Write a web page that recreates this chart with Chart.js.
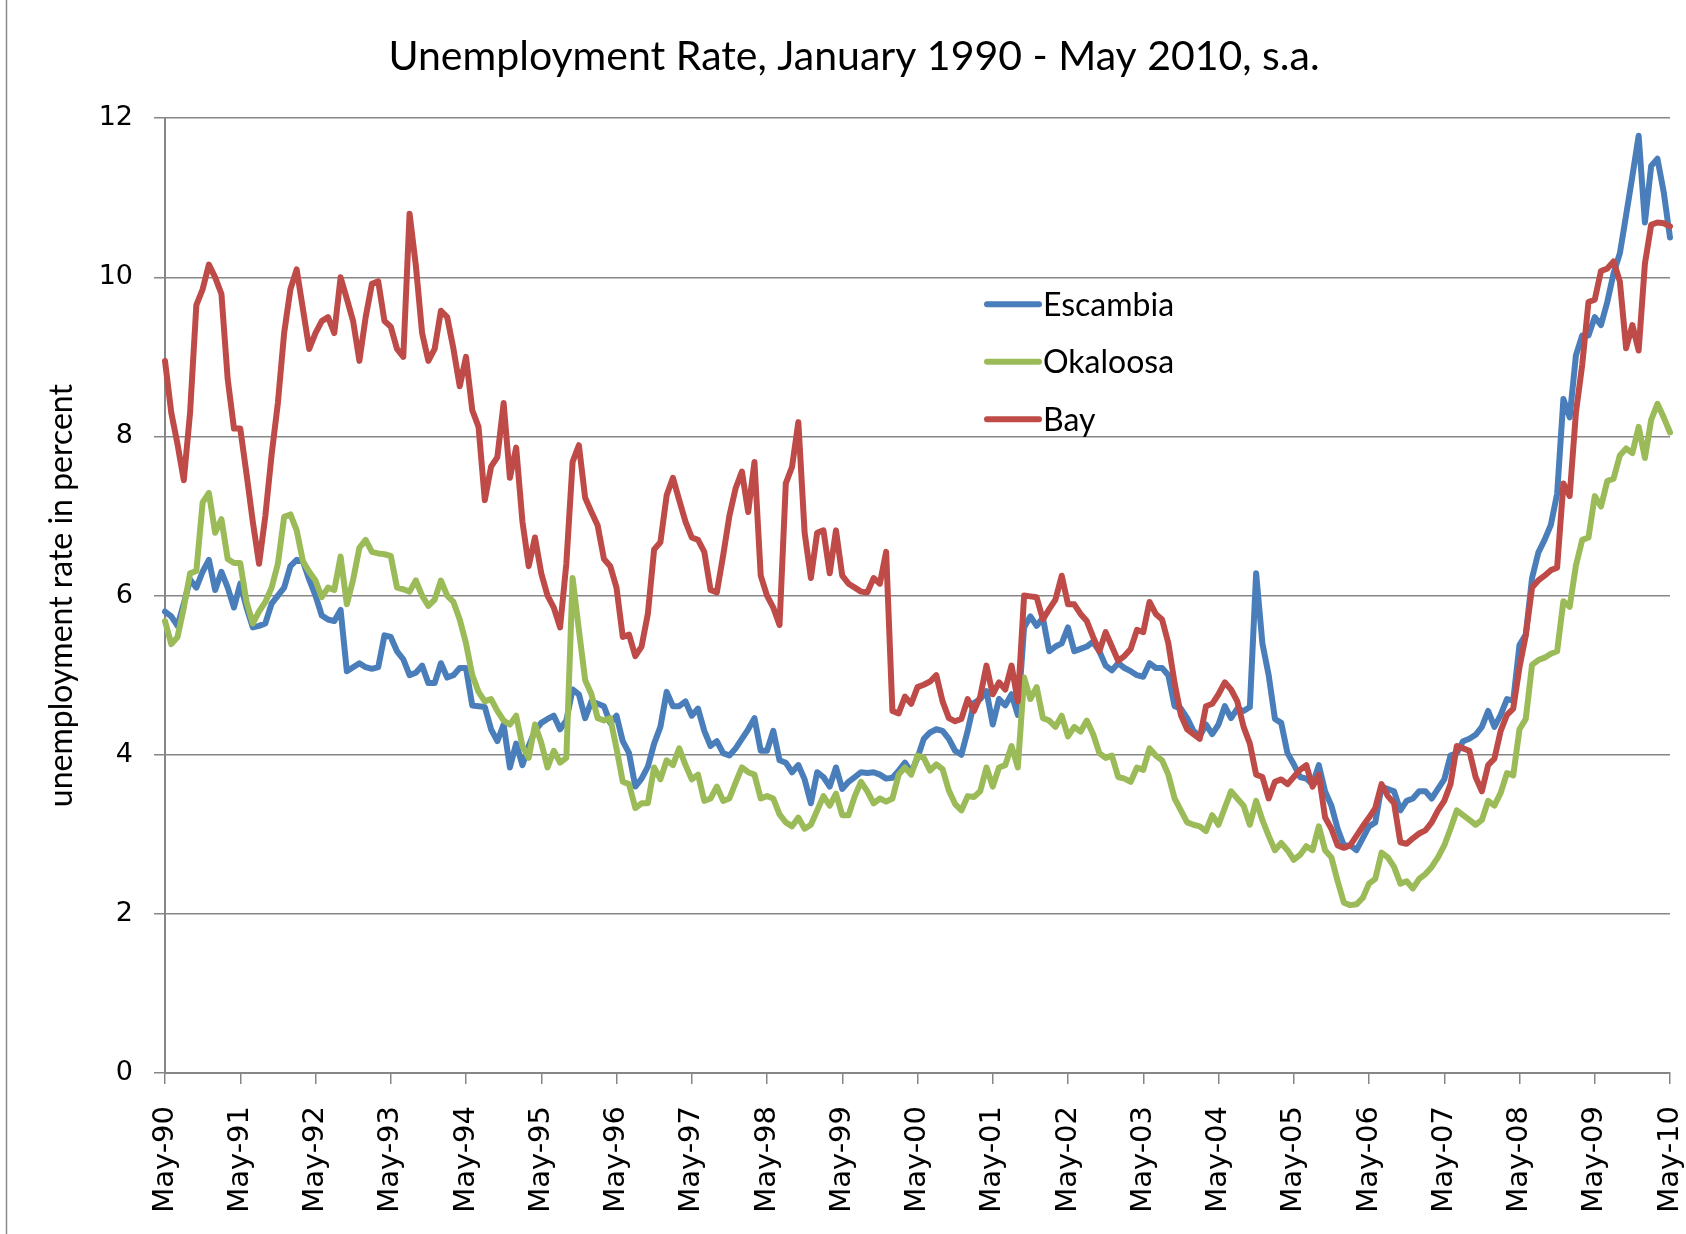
<!DOCTYPE html>
<html>
<head>
<meta charset="utf-8">
<script src="https://cdn.jsdelivr.net/npm/chart.js@4.4.1/dist/chart.umd.min.js"></script>
<style>
html, body { margin: 0; padding: 0; background: #fff; }
#wrap { position: relative; width: 1686px; height: 1234px; }
</style>
</head>
<body>
<div id="wrap"><canvas id="chart" width="1686" height="1234"></canvas></div>
<script>
var fontFamily = 'Lato, "Open Sans", sans-serif';
var tickFamily = '"DejaVu Sans", Verdana, sans-serif';

// monthly, May-90 .. May-10
var monthNames = ['Jan', 'Feb', 'Mar', 'Apr', 'May', 'Jun', 'Jul', 'Aug', 'Sep', 'Oct', 'Nov', 'Dec'];
var months = [];
for (var k = 0; k <= 240; k++) {
    var yy = (90 + Math.floor((4 + k) / 12)) % 100;
    months.push(monthNames[(4 + k) % 12] + '-' + (yy < 10 ? '0' : '') + yy);
}

var escambia = [
    5.80, 5.74, 5.62, 5.90, 6.20, 6.10, 6.30, 6.45, 6.07, 6.30, 6.10, 5.85,
    6.15, 5.85, 5.60, 5.62, 5.65, 5.90, 6.00, 6.10, 6.37, 6.45, 6.43, 6.20,
    6.00, 5.75, 5.70, 5.68, 5.82, 5.05, 5.10, 5.15, 5.10, 5.08, 5.10, 5.50,
    5.48, 5.30, 5.20, 5.00, 5.03, 5.12, 4.90, 4.90, 5.15, 4.97, 5.00, 5.09,
    5.09, 4.62, 4.61, 4.60, 4.32, 4.17, 4.38, 3.84, 4.14, 3.87, 4.11, 4.30,
    4.40, 4.45, 4.49, 4.32, 4.43, 4.82, 4.76, 4.46, 4.67, 4.64, 4.61, 4.40,
    4.49, 4.17, 4.02, 3.60, 3.70, 3.85, 4.14, 4.35, 4.79, 4.61, 4.61, 4.67,
    4.49, 4.58, 4.30, 4.11, 4.17, 4.02, 3.99, 4.08, 4.20, 4.32, 4.46, 4.05,
    4.05, 4.30, 3.93, 3.90, 3.78, 3.87, 3.69, 3.39, 3.78, 3.72, 3.60, 3.84,
    3.57, 3.66, 3.72, 3.78, 3.77, 3.78, 3.75, 3.70, 3.71, 3.80, 3.90, 3.78,
    3.96, 4.20, 4.28, 4.32, 4.30, 4.20, 4.05, 4.00, 4.30, 4.65, 4.70, 4.80,
    4.38, 4.70, 4.62, 4.76, 4.50, 5.60, 5.74, 5.62, 5.72, 5.30, 5.36, 5.40,
    5.60, 5.30, 5.33, 5.36, 5.42, 5.30, 5.12, 5.06, 5.15, 5.09, 5.05, 5.00,
    4.98, 5.15, 5.09, 5.09, 5.00, 4.61, 4.58, 4.46, 4.30, 4.23, 4.38, 4.26,
    4.38, 4.61, 4.46, 4.58, 4.55, 4.60, 6.28, 5.40, 5.00, 4.45, 4.40, 4.02,
    3.88, 3.72, 3.70, 3.63, 3.87, 3.54, 3.36, 3.07, 2.86, 2.86, 2.80, 2.95,
    3.10, 3.15, 3.60, 3.57, 3.54, 3.30, 3.42, 3.45, 3.54, 3.54, 3.45, 3.57,
    3.69, 3.99, 4.02, 4.17, 4.20, 4.25, 4.35, 4.55, 4.35, 4.50, 4.70, 4.68,
    5.38, 5.51, 6.22, 6.54, 6.70, 6.89, 7.28, 8.47, 8.24, 9.02, 9.27, 9.27,
    9.50, 9.40, 9.69, 10.05, 10.30, 10.78, 11.27, 11.78, 10.69, 11.40, 11.49, 11.07,
    10.50
];

var okaloosa = [
    5.68, 5.39, 5.48, 5.85, 6.28, 6.31, 7.17, 7.29, 6.79, 6.96, 6.46, 6.41,
    6.41, 5.92, 5.65, 5.80, 5.92, 6.10, 6.40, 6.99, 7.02, 6.82, 6.43, 6.30,
    6.19, 5.98, 6.10, 6.07, 6.49, 5.89, 6.20, 6.60, 6.70, 6.55, 6.53, 6.52,
    6.50, 6.10, 6.08, 6.05, 6.19, 6.00, 5.87, 5.95, 6.19, 6.00, 5.92, 5.70,
    5.40, 5.00, 4.79, 4.67, 4.70, 4.55, 4.43, 4.38, 4.49, 4.11, 3.96, 4.38,
    4.15, 3.84, 4.05, 3.90, 3.96, 6.22, 5.57, 4.94, 4.76, 4.46, 4.43, 4.46,
    4.08, 3.66, 3.63, 3.33, 3.39, 3.39, 3.84, 3.69, 3.93, 3.87, 4.08, 3.87,
    3.69, 3.75, 3.42, 3.45, 3.60, 3.42, 3.45, 3.65, 3.84, 3.78, 3.75, 3.45,
    3.48, 3.45, 3.25, 3.15, 3.10, 3.21, 3.07, 3.12, 3.30, 3.48, 3.36, 3.51,
    3.24, 3.24, 3.48, 3.66, 3.54, 3.39, 3.45, 3.41, 3.45, 3.75, 3.84, 3.75,
    3.99, 3.96, 3.80, 3.88, 3.82, 3.55, 3.38, 3.30, 3.48, 3.47, 3.54, 3.84,
    3.60, 3.84, 3.87, 4.11, 3.84, 4.97, 4.70, 4.85, 4.46, 4.43, 4.35, 4.49,
    4.23, 4.35, 4.29, 4.43, 4.26, 4.02, 3.96, 3.99, 3.72, 3.70, 3.66, 3.84,
    3.81, 4.08, 3.99, 3.93, 3.75, 3.45, 3.30, 3.15, 3.12, 3.10, 3.04, 3.24,
    3.12, 3.33, 3.54, 3.45, 3.36, 3.12, 3.42, 3.18, 2.98, 2.80, 2.89, 2.80,
    2.68, 2.74, 2.85, 2.80, 3.10, 2.80, 2.71, 2.41, 2.14, 2.11, 2.12, 2.20,
    2.38, 2.44, 2.77, 2.71, 2.59, 2.38, 2.41, 2.32, 2.44, 2.50, 2.59, 2.71,
    2.86, 3.07, 3.30, 3.24, 3.18, 3.12, 3.18, 3.42, 3.36, 3.52, 3.77, 3.74,
    4.32, 4.45, 5.13, 5.19, 5.22, 5.27, 5.30, 5.93, 5.86, 6.38, 6.70, 6.73,
    7.25, 7.12, 7.44, 7.47, 7.76, 7.85, 7.79, 8.12, 7.73, 8.21, 8.41, 8.24,
    8.05
];

var bay = [
    8.95, 8.30, 7.90, 7.45, 8.30, 9.65, 9.85, 10.16, 10.00, 9.79, 8.72, 8.10,
    8.10, 7.53, 6.93, 6.40, 7.00, 7.77, 8.42, 9.30, 9.85, 10.10, 9.60, 9.10,
    9.30, 9.45, 9.50, 9.30, 10.00, 9.73, 9.45, 8.95, 9.50, 9.92, 9.95, 9.45,
    9.38, 9.10, 9.00, 10.80, 10.15, 9.30, 8.95, 9.10, 9.58, 9.50, 9.10, 8.63,
    9.00, 8.33, 8.12, 7.20, 7.62, 7.74, 8.42, 7.48, 7.86, 6.93, 6.37, 6.73,
    6.28, 6.00, 5.85, 5.60, 6.40, 7.68, 7.89, 7.23, 7.05, 6.88, 6.46, 6.37,
    6.10, 5.48, 5.51, 5.24, 5.36, 5.77, 6.58, 6.67, 7.26, 7.48, 7.20, 6.93,
    6.73, 6.70, 6.55, 6.07, 6.04, 6.50, 7.00, 7.35, 7.56, 7.05, 7.68, 6.25,
    6.00, 5.85, 5.63, 7.41, 7.62, 8.18, 6.79, 6.22, 6.79, 6.82, 6.28, 6.82,
    6.25, 6.15, 6.10, 6.05, 6.04, 6.22, 6.15, 6.55, 4.55, 4.52, 4.73, 4.64,
    4.85, 4.88, 4.92, 5.00, 4.67, 4.46, 4.42, 4.45, 4.70, 4.55, 4.73, 5.12,
    4.76, 4.91, 4.82, 5.12, 4.67, 6.00, 5.99, 5.98, 5.70, 5.83, 5.95, 6.25,
    5.89, 5.89, 5.77, 5.68, 5.48, 5.30, 5.54, 5.36, 5.18, 5.24, 5.33, 5.57,
    5.54, 5.92, 5.77, 5.70, 5.40, 4.90, 4.50, 4.32, 4.26, 4.20, 4.61, 4.64,
    4.76, 4.91, 4.82, 4.67, 4.35, 4.14, 3.75, 3.72, 3.45, 3.66, 3.69, 3.63,
    3.72, 3.81, 3.87, 3.60, 3.75, 3.21, 3.07, 2.86, 2.83, 2.86, 2.98, 3.10,
    3.21, 3.33, 3.63, 3.48, 3.39, 2.90, 2.88, 2.95, 3.01, 3.05, 3.15, 3.30,
    3.42, 3.63, 4.11, 4.08, 4.05, 3.72, 3.54, 3.87, 3.95, 4.30, 4.50, 4.58,
    5.10, 5.50, 6.10, 6.19, 6.25, 6.32, 6.35, 7.41, 7.25, 8.30, 8.90, 9.69,
    9.72, 10.08, 10.11, 10.20, 9.95, 9.11, 9.40, 9.08, 10.17, 10.66, 10.69, 10.68,
    10.64
];

var seriesNames = ['Escambia', 'Okaloosa', 'Bay'];
var seriesColors = ['#4a7ebb', '#9bbb59', '#be4b48'];
var yTicks = [0, 2, 4, 6, 8, 10, 12];

// legend sits inside the plot, Excel style
var insideLegend = {
    id: 'insideLegend',
    afterDraw: function(chart) {
        var ctx = chart.ctx;
        var a = chart.chartArea;
        var x0 = a.left + 822;
        var y0 = a.top + 186;
        ctx.save();
        ctx.font = '32px ' + fontFamily;
        ctx.textBaseline = 'middle';
        for (var i = 0; i < seriesNames.length; i++) {
            var y = y0 + i * 57.5;
            ctx.strokeStyle = seriesColors[i];
            ctx.lineWidth = 6;
            ctx.lineCap = 'round';
            ctx.beginPath();
            ctx.moveTo(x0, y);
            ctx.lineTo(x0 + 52, y);
            ctx.stroke();
            ctx.fillStyle = '#000';
            ctx.fillText(seriesNames[i], x0 + 56, y + 1);
        }
        ctx.restore();
    }
};

var frame = {
    id: 'frame',
    beforeDraw: function(chart) {
        var ctx = chart.ctx;
        ctx.save();
        ctx.fillStyle = '#fff';
        ctx.fillRect(0, 0, chart.width, chart.height);
        ctx.strokeStyle = '#8c8c8c';
        ctx.lineWidth = 1.5;
        ctx.beginPath();
        ctx.moveTo(6.5, 0);
        ctx.lineTo(6.5, chart.height);
        ctx.stroke();
        ctx.restore();
    }
};

var datasets = [escambia, okaloosa, bay].map(function(values, i) {
    return {
        label: seriesNames[i],
        data: values,
        borderColor: seriesColors[i],
        borderWidth: 6,
        borderJoinStyle: 'round',
        borderCapStyle: 'round',
        pointRadius: 0,
        tension: 0,
        fill: false,
        order: 2 - i
    };
});

new Chart(document.getElementById('chart'), {
    type: 'line',
    data: { labels: months, datasets: datasets },
    options: {
        responsive: false,
        animation: false,
        layout: { padding: { left: 38, right: 16, top: 0, bottom: 0 } },
        plugins: {
            legend: { display: false },
            tooltip: { enabled: false },
            title: {
                display: true,
                text: 'Unemployment Rate, January 1990 - May 2010, s.a.',
                color: '#000',
                font: { family: fontFamily, size: 41, weight: 'normal' },
                padding: { top: 32, bottom: 37 }
            }
        },
        scales: {
            x: {
                type: 'category',
                offset: false,
                grid: { drawOnChartArea: false, tickLength: 11, color: '#868686', lineWidth: 1.5 },
                border: { color: '#868686', width: 2 },
                ticks: {
                    autoSkip: false,
                    minRotation: 90,
                    maxRotation: 90,
                    padding: 22,
                    color: '#000',
                    font: { family: tickFamily, size: 29 },
                    callback: function(val, idx) {
                        return idx % 12 === 0 ? this.getLabelForValue(val) : null;
                    }
                },
                afterFit: function(scale) {
                    scale.height = 161;
                    scale.paddingLeft = 0;
                    scale.paddingRight = 0;
                }
            },
            y: {
                min: yTicks[0],
                max: yTicks[yTicks.length - 1],
                grid: { color: '#868686', lineWidth: 1.5, tickLength: 11 },
                border: { color: '#868686', width: 2 },
                ticks: {
                    stepSize: 2,
                    padding: 21,
                    color: '#000',
                    font: { family: tickFamily, size: 27 }
                },
                title: {
                    display: true,
                    text: 'unemployment rate in percent',
                    color: '#000',
                    font: { family: fontFamily, size: 32 },
                    padding: { top: 4, bottom: 0 }
                },
                afterFit: function(scale) { scale.width = 127; }
            }
        }
    },
    plugins: [frame, insideLegend]
});
</script>
</body>
</html>
